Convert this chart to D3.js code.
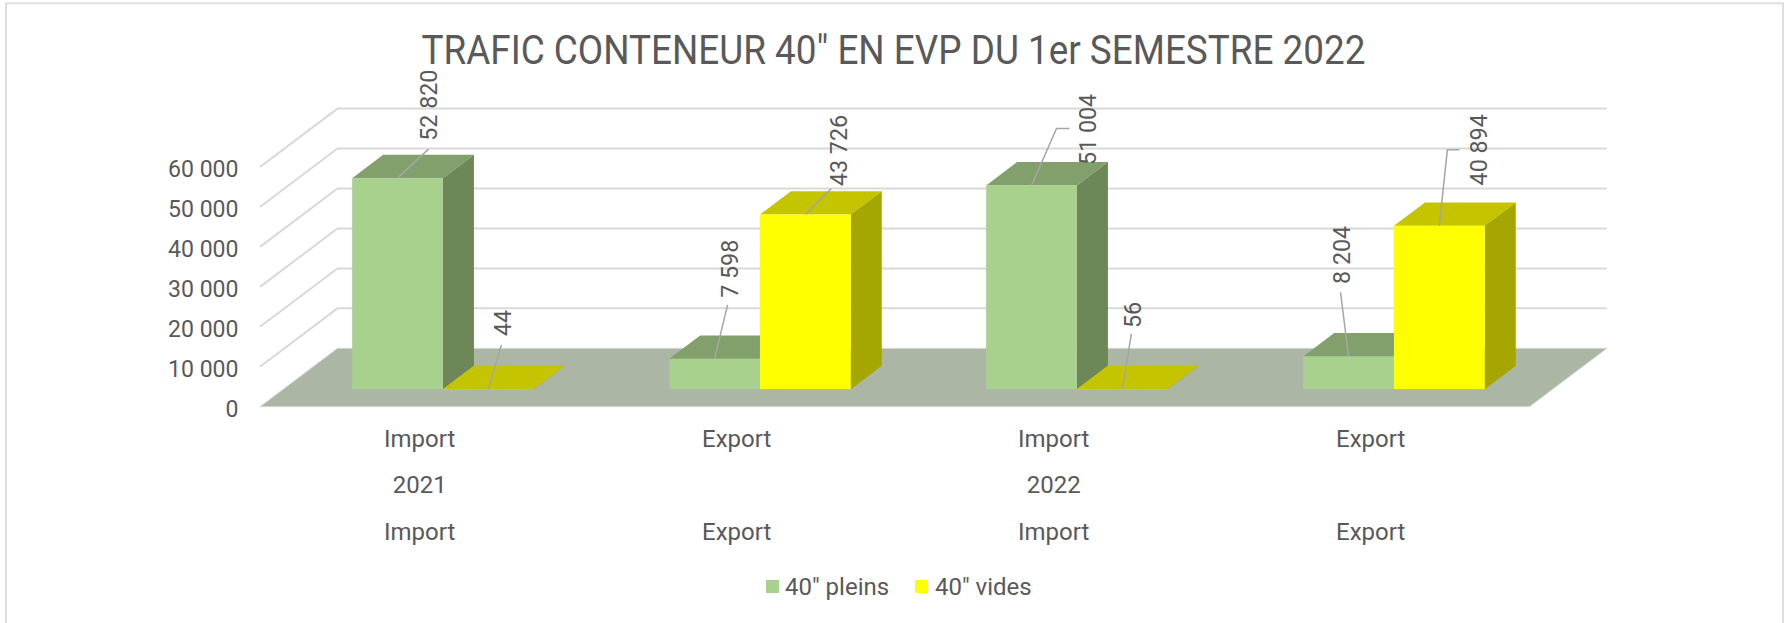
<!DOCTYPE html>
<html><head><meta charset="utf-8">
<script src="https://cdn.jsdelivr.net/npm/d3@7/dist/d3.min.js"></script>
<style>html,body{margin:0;padding:0;background:#fff}svg{display:block}</style>
</head><body><div id="c"></div>
<script>
const title = 'TRAFIC CONTENEUR 40" EN EVP DU 1er SEMESTRE 2022';
const categories = ["Import","Export","Import","Export"];
const years = ["2021","","2022",""];
const seriesNames = ['40" pleins','40" vides'];
const pleins = [52820,7598,51004,8204];
const vides = [44,43726,56,40894];
const yTicks = [0,10000,20000,30000,40000,50000,60000];
// annotation layout: label offset and leader elbows relative to each bar's top centre
const labelLayout = [
 [{l:[31,-73],p:[[31,-29]]},{l:[15,-90],p:[[13,-54]]},{l:[56,-56],p:[[25,-57],[38,-57]]},{l:[-7,-101.5],p:[[-8,-64]]}],
 [{l:[14,-66],p:[[13,-44]]},{l:[33,-64],p:[[26,-26]]},{l:[10,-74],p:[[9,-55]]},{l:[39,-76],p:[[8,-76],[20,-76]]}]
];
const colors = [{front:"#A9D18E",top:"#82A06C",side:"#6D8759"},{front:"#FFFF00",top:"#C4C400",side:"#A6A600"}];
const FONT = "Roboto,'Open Sans',sans-serif", TXT="#595959";
const fmt = v => d3.format(",")(v).replace(/,/g," ");

const W=1787,H=623;
const svg=d3.select("#c").append("svg").attr("width",W).attr("height",H);
svg.append("rect").attr("x",6).attr("y",3.3).attr("width",1777).attr("height",H+10).attr("fill","#fff").attr("stroke","#DEDEDE").attr("stroke-width",2);

// projection: front-plane scales plus a depth shift (0 = front of floor, 1 = back wall)
const plot={x0:260,x1:1529.5,y0:406.7,y1:167,dx:77.5,dy:-58.4};
const x=d3.scaleBand().domain(d3.range(4)).range([261.2,1529.2]).padding(0);
const y=d3.scaleLinear().domain([0,60000]).range([plot.y0,plot.y1]);
const P=(px,v,z)=>[px+plot.dx*z,y(v)+plot.dy*z];
const path=pts=>"M"+pts.map(p=>p.join(",")).join("L")+"Z";
// text helper: slightly condensed, as the original's narrow face
const label=(sel,size=24,k=0.97,w=400)=>{
  sel.attr("font-family",FONT).attr("font-size",size).attr("font-weight",w).attr("fill",TXT);
  const n=sel.node();
  sel.attr("textLength",n.getComputedTextLength()*k).attr("lengthAdjust","spacingAndGlyphs");
  return sel;
};

// floor
svg.append("path").attr("d",path([P(plot.x0,0,0),P(plot.x1,0,0),P(plot.x1,0,1),P(plot.x0,0,1)])).attr("fill","#ABB6A4").attr("stroke","#D9D9D9").attr("stroke-width",1);
// gridlines
const g=svg.append("g").attr("fill","none").attr("stroke","#D9D9D9").attr("stroke-width",2);
yTicks.slice(1).forEach(t=>{
  g.append("path").attr("d",d3.line()([P(plot.x0,t,0),P(plot.x0,t,1),P(plot.x1,t,1)]));
});
// y axis labels
yTicks.forEach(t=>{
  label(svg.append("text").attr("x",238.5).attr("y",y(t)+1.5).attr("dy","0.36em").attr("text-anchor","end").text(fmt(t)),24,0.96);
});

// bars
const barW=90.8, zA=0.3, zB=0.7;
const barX=(i,s)=>x(i)+x.bandwidth()/2+(s===0?-barW:0);
const anchors=[];
[pleins,vides].forEach((vals,s)=>{
  const gg=svg.append("g");
  vals.forEach((v,i)=>{
    const l=barX(i,s), r=l+barW, c=colors[s];
    gg.append("path").attr("d",path([P(l,v,zA),P(r,v,zA),P(r,v,zB),P(l,v,zB)])).attr("fill",c.top);
    gg.append("path").attr("d",path([P(r,0,zA),P(r,v,zA),P(r,v,zB),P(r,0,zB)])).attr("fill",c.side);
    const a=P(l,v,zA), b=P(r,0,zA);
    gg.append("rect").attr("x",a[0]).attr("y",a[1]).attr("width",b[0]-a[0]).attr("height",b[1]-a[1]).attr("fill",c.front);
    anchors.push({s,i,v,cx:(a[0]+b[0])/2,cy:a[1]});
  });
});
// data labels and leaders
anchors.forEach(a=>{
  const L=labelLayout[a.s][a.i];
  svg.append("path").attr("fill","none").attr("stroke","#A6A6A6").attr("stroke-width",1.5)
    .attr("d",d3.line()([[a.cx,a.cy],...L.p.map(o=>[a.cx+o[0],a.cy+o[1]])]));
  label(svg.append("text").attr("transform",`translate(${a.cx+L.l[0]},${a.cy+L.l[1]}) rotate(-90)`)
    .attr("text-anchor","middle").attr("dy","0.36em").text(fmt(a.v)),24,0.97);
});
// category labels
const labelX=i=>x(i)+x.bandwidth()/2;
const tt=(t,xx,yy)=>label(svg.append("text").attr("x",xx).attr("y",yy).attr("dy","0.36em").attr("text-anchor","middle").text(t),24,1);
categories.forEach((c,i)=>{
  tt(c,labelX(i),438);
  if(years[i]) tt(years[i],labelX(i),484);
  tt(c,labelX(i),531);
});
// title
const tNode=svg.append("text").attr("x",893.5).attr("y",49).attr("dy","0.36em").attr("text-anchor","middle").text(title);
label(tNode,41,1).attr("textLength",944);
// legend
[[766,785],[915,935]].forEach((p,k)=>{
  svg.append("rect").attr("x",p[0]).attr("y",580).attr("width",13).attr("height",13).attr("fill",colors[k].front);
  label(svg.append("text").attr("x",p[1]).attr("y",586.5).attr("dy","0.36em").text(seriesNames[k]),24,1);
});
</script></body></html>
